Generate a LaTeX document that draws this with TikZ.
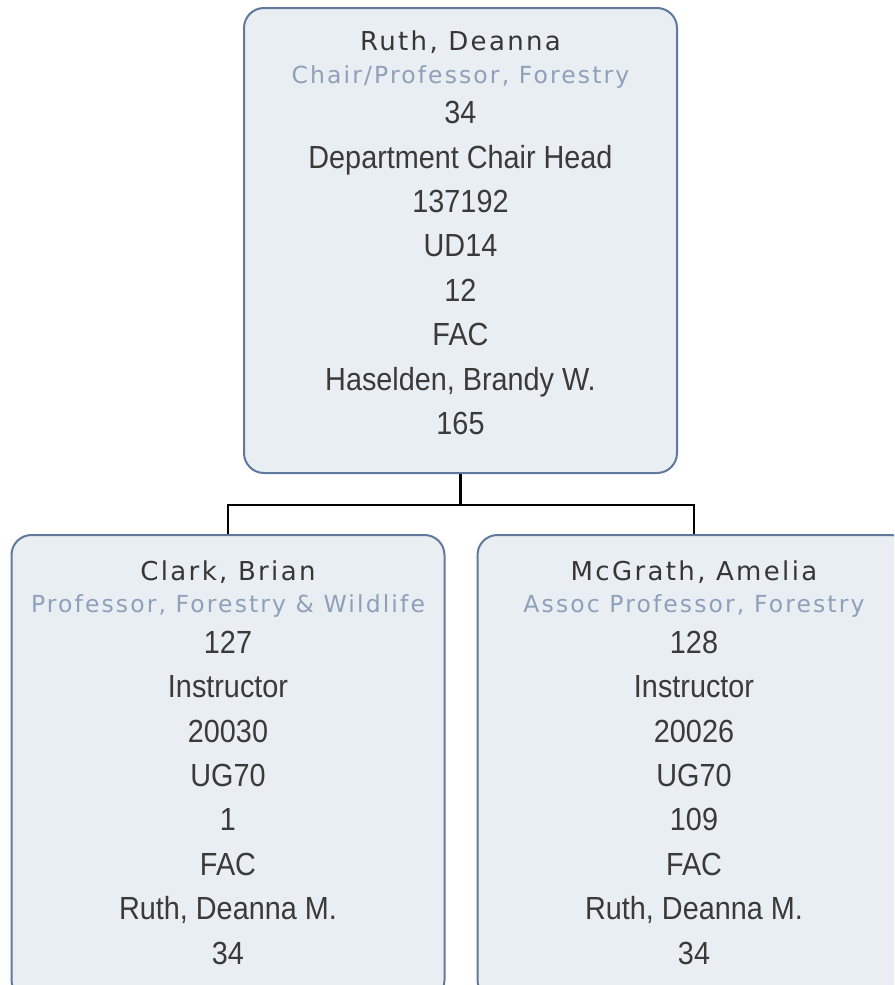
\documentclass[tikz,border=0pt]{standalone}
\usepackage{fontspec}
\setmainfont{Liberation Sans}
\newfontfamily\bodyfont[FakeStretch=0.9]{Liberation Sans}
\newfontfamily\headfont[LetterSpace=9]{DejaVu Sans}
\newfontfamily\subfont[LetterSpace=9]{DejaVu Sans}

\definecolor{cardfill}{HTML}{E9EEF2}
\definecolor{cardline}{HTML}{61789D}
\definecolor{namegray}{HTML}{363636}
\definecolor{titleblue}{HTML}{8EA0BA}
\definecolor{bodygray}{HTML}{3A3A3A}

\newcommand{\cardname}[1]{{\headfont\fontsize{26}{30}\selectfont\color{namegray}#1}}
\newcommand{\cardtitle}[1]{{\subfont\fontsize{23.5}{27}\selectfont\color{titleblue}#1}}

\tikzset{
  card/.style={draw=cardline, fill=cardfill, line width=2pt, rounded corners=20pt,
    minimum width=433pt, minimum height=465pt, inner sep=0pt},
  cardtext/.style={anchor=base, align=center, inner sep=0pt, text=bodygray,
    font=\bodyfont\fontsize{32}{44.4}\selectfont},
  link/.style={draw=black, line width=2.2pt},
}

\begin{document}
\begin{tikzpicture}[x=1pt, y=-1pt]
  \useasboundingbox (0,0) rectangle (894,985);
  \clip (0,0) rectangle (894,985);

  % boxes
  \node[card] (chair) at (460.5,240.5) {};
  \node[card] (clark) at (228,767.5) {};
  \node[card] (mcgrath) at (694,767.5) {};

  % texts (base = last line)
  \node[cardtext] (chairtxt) at ([yshift=-427.5pt]chair.north)
    {\cardname{Ruth, Deanna}\\[-11.9pt]
     \cardtitle{Chair/Professor, Forestry}\\[-3.9pt]
     34\\ Department Chair Head\\ 137192\\ UD14\\ 12\\ FAC\\
     Haselden, Brandy W.\\ 165};
  \node[cardtext] (clarktxt) at ([yshift=-430pt]clark.north)
    {\cardname{Clark, Brian}\\[-11.9pt]
     \cardtitle{Professor, Forestry \& Wildlife}\\[-3.9pt]
     127\\ Instructor\\ 20030\\ UG70\\ 1\\ FAC\\
     Ruth, Deanna M.\\ 34};
  \node[cardtext] (mcgrathtxt) at ([yshift=-430pt]mcgrath.north)
    {\cardname{McGrath, Amelia}\\[-11.9pt]
     \cardtitle{Assoc Professor, Forestry}\\[-3.9pt]
     128\\ Instructor\\ 20026\\ UG70\\ 109\\ FAC\\
     Ruth, Deanna M.\\ 34};

  % connectors
  \draw[link] (chair.south) -- ++(0,31) coordinate (fork);
  \draw[link] (fork) -| (clark.north);
  \draw[link] (fork) -| (mcgrath.north);
\end{tikzpicture}
\end{document}
